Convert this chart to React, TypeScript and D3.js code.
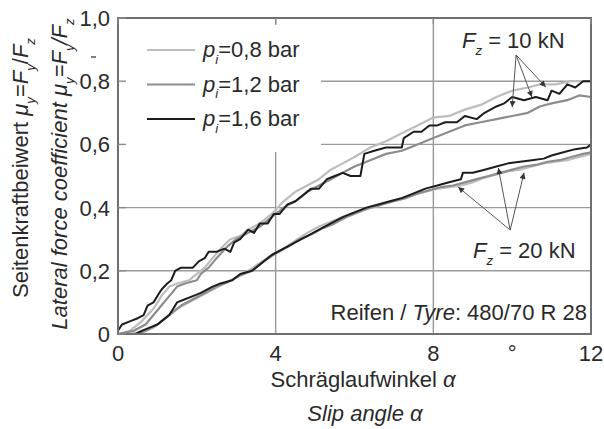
import { useEffect, useRef } from "react";
import * as d3 from "d3";

// slip angle [deg] vs lateral force coefficient
const fz10Bar08: [number, number][] = [
  [0, 0], [0.3, 0.01], [0.6, 0.04], [0.9, 0.08], [1.1, 0.12], [1.3, 0.15], [1.5, 0.16],
  [1.8, 0.17], [2.0, 0.19], [2.2, 0.21], [2.4, 0.24], [2.6, 0.27], [2.85, 0.3], [3.1, 0.31],
  [3.3, 0.33], [3.6, 0.35], [3.9, 0.38], [4.2, 0.42], [4.5, 0.45], [4.8, 0.47], [5.1, 0.49],
  [5.4, 0.52], [5.7, 0.54], [6.0, 0.56], [6.4, 0.59], [6.8, 0.61], [7.2, 0.635], [7.6, 0.66],
  [8.0, 0.685], [8.4, 0.69], [8.8, 0.71], [9.2, 0.725], [9.6, 0.75], [10.0, 0.77],
  [10.4, 0.78], [10.7, 0.79], [11.1, 0.79], [11.5, 0.8], [12, 0.8],
];
const fz10Bar12: [number, number][] = [
  [0, 0], [0.4, 0.01], [0.7, 0.03], [0.9, 0.06], [1.1, 0.09], [1.3, 0.12], [1.5, 0.15],
  [1.7, 0.16], [2.0, 0.17], [2.1, 0.19], [2.3, 0.21], [2.5, 0.24], [2.8, 0.28], [3.0, 0.3],
  [3.3, 0.32], [3.6, 0.34], [3.9, 0.37], [4.2, 0.4], [4.5, 0.42], [4.8, 0.45], [5.1, 0.47],
  [5.4, 0.49], [5.7, 0.51], [6.0, 0.53], [6.4, 0.55], [6.8, 0.57], [7.2, 0.58], [7.6, 0.6],
  [8.0, 0.62], [8.4, 0.64], [8.8, 0.66], [9.2, 0.67], [9.6, 0.68], [10.0, 0.69], [10.4, 0.7],
  [10.7, 0.72], [11.0, 0.73], [11.4, 0.74], [11.7, 0.755], [12, 0.75],
];
const fz10Bar16: [number, number][] = [
  [0, 0.01], [0.1, 0.03], [0.3, 0.04], [0.5, 0.05], [0.65, 0.06], [0.75, 0.09], [0.9, 0.1],
  [1.0, 0.12], [1.1, 0.14], [1.25, 0.16], [1.35, 0.17], [1.45, 0.2], [1.6, 0.21], [1.9, 0.21],
  [2.05, 0.23], [2.2, 0.24], [2.3, 0.26], [2.5, 0.26], [2.7, 0.27], [2.85, 0.26], [2.95, 0.29],
  [3.1, 0.3], [3.3, 0.33], [3.45, 0.32], [3.6, 0.35], [3.8, 0.35], [3.95, 0.38], [4.1, 0.38],
  [4.3, 0.41], [4.5, 0.42], [4.7, 0.44], [4.9, 0.46], [5.1, 0.46], [5.3, 0.49], [5.5, 0.5],
  [5.7, 0.51], [5.9, 0.5], [6.15, 0.5], [6.25, 0.57], [6.5, 0.58], [6.8, 0.59], [7.0, 0.59],
  [7.2, 0.59], [7.25, 0.62], [7.5, 0.64], [7.7, 0.64], [7.9, 0.66], [8.1, 0.66], [8.3, 0.67],
  [8.6, 0.67], [8.8, 0.69], [9.1, 0.68], [9.3, 0.7], [9.6, 0.72], [9.8, 0.73], [10.0, 0.75],
  [10.3, 0.74], [10.6, 0.75], [10.9, 0.74], [11.0, 0.77], [11.2, 0.76], [11.4, 0.79],
  [11.6, 0.78], [11.8, 0.8], [12, 0.8],
];
const fz20Bar08: [number, number][] = [
  [0.3, 0], [0.6, 0.005], [0.9, 0.02], [1.2, 0.05], [1.5, 0.08], [1.8, 0.1], [2.1, 0.12],
  [2.4, 0.14], [2.7, 0.16], [3.0, 0.18], [3.3, 0.2], [3.6, 0.225], [3.9, 0.25], [4.2, 0.27],
  [4.5, 0.295], [4.8, 0.32], [5.1, 0.34], [5.4, 0.355], [5.7, 0.37], [6.0, 0.385], [6.3, 0.395],
  [6.6, 0.405], [6.9, 0.42], [7.2, 0.43], [7.5, 0.44], [7.8, 0.45], [8.1, 0.46], [8.4, 0.465],
  [8.7, 0.47], [9.0, 0.48], [9.3, 0.495], [9.6, 0.505], [9.9, 0.515], [10.2, 0.52], [10.5, 0.53],
  [10.8, 0.54], [11.1, 0.545], [11.4, 0.55], [11.7, 0.56], [12, 0.57],
];
const fz20Bar12: [number, number][] = [
  [0.4, 0], [0.7, 0.01], [1.0, 0.03], [1.3, 0.06], [1.6, 0.09], [1.9, 0.11], [2.2, 0.13],
  [2.5, 0.15], [2.8, 0.165], [3.1, 0.185], [3.4, 0.2], [3.7, 0.23], [4.0, 0.255], [4.3, 0.275],
  [4.6, 0.3], [4.9, 0.315], [5.2, 0.335], [5.5, 0.35], [5.8, 0.37], [6.1, 0.385], [6.4, 0.4],
  [6.7, 0.41], [7.0, 0.42], [7.3, 0.43], [7.6, 0.445], [7.9, 0.455], [8.2, 0.465], [8.5, 0.47],
  [8.8, 0.48], [9.1, 0.49], [9.4, 0.5], [9.7, 0.51], [10.0, 0.52], [10.3, 0.53], [10.6, 0.535],
  [10.9, 0.545], [11.2, 0.55], [11.5, 0.56], [11.8, 0.57], [12, 0.575],
];
const fz20Bar16: [number, number][] = [
  [0.45, 0], [0.6, 0.01], [0.8, 0.02], [1.0, 0.03], [1.1, 0.04], [1.3, 0.06], [1.4, 0.08],
  [1.5, 0.1], [1.7, 0.11], [1.9, 0.12], [2.1, 0.13], [2.4, 0.15], [2.6, 0.16], [2.9, 0.17],
  [3.1, 0.19], [3.4, 0.2], [3.6, 0.22], [3.9, 0.25], [4.2, 0.27], [4.5, 0.29], [4.8, 0.31],
  [5.1, 0.33], [5.4, 0.35], [5.7, 0.37], [6.0, 0.385], [6.3, 0.4], [6.6, 0.41], [6.9, 0.42],
  [7.2, 0.43], [7.5, 0.445], [7.8, 0.46], [8.1, 0.47], [8.4, 0.48], [8.7, 0.49], [8.75, 0.51],
  [9.0, 0.51], [9.3, 0.52], [9.6, 0.53], [9.9, 0.54], [10.2, 0.545], [10.5, 0.55],
  [10.8, 0.555], [11.0, 0.565], [11.3, 0.575], [11.6, 0.585], [11.9, 0.59], [12, 0.6],
];

const pressures = ["0,8", "1,2", "1,6"];
const pressureColors = ["#bdbdbd", "#8c8c8c", "#1c1c1c"];
const seriesByPressure = [
  [fz10Bar08, fz20Bar08],
  [fz10Bar12, fz20Bar12],
  [fz10Bar16, fz20Bar16],
];

const xTicks = [0, 4, 8, 12];
const xTickLabels = ["0", "4", "8", "12"];
const yTicks = [0, 0.2, 0.4, 0.6, 0.8, 1.0];
const yTickLabels = ["0", "0,2", "0,4", "0,6", "0,8", "1,0"];

// arrows: [from angle, from mu, to angle, to mu]
const arrows10: [number, number, number, number][] = [
  [10.1, 0.883, 10.0, 0.718],
  [10.1, 0.883, 10.5, 0.75],
  [10.1, 0.883, 10.85, 0.782],
];
const arrows20: [number, number, number, number][] = [
  [9.95, 0.329, 8.63, 0.465],
  [9.95, 0.329, 9.65, 0.525],
  [9.95, 0.329, 10.3, 0.51],
];

type Part = { t: string; it?: boolean; sub?: boolean };

const W = 604;
const H = 429;
const FONT = "'Liberation Sans', Arial, sans-serif";
const TXT = "#2a2a2a";
const FS = 22;

function richText(
  sel: d3.Selection<SVGTextElement, unknown, null, undefined>,
  parts: Part[],
  size: number
) {
  let shifted = false;
  parts.forEach((p) => {
    const ts = sel.append("tspan").text(p.t);
    if (p.it) ts.style("font-style", "italic");
    if (p.sub) {
      ts.attr("font-size", size * 0.6).attr("dy", size * 0.3);
      shifted = true;
    } else if (shifted) {
      ts.attr("dy", -size * 0.3);
      shifted = false;
    }
  });
}

export default function App() {
  const svgRef = useRef<SVGSVGElement>(null);

  useEffect(() => {
    if (!svgRef.current) return;
    const svg = d3.select(svgRef.current);
    svg.selectAll("*").remove();

    const x = d3.scaleLinear().domain([0, 12]).range([118, 591]);
    const y = d3.scaleLinear().domain([0, 1]).range([334, 18]);

    svg.append("rect").attr("width", W).attr("height", H).attr("fill", "#fff");

    const grid = svg.append("g").attr("stroke", "#9a9a9a").attr("stroke-width", 1.4);
    grid
      .selectAll("line.v")
      .data(xTicks.slice(1, -1))
      .join("line")
      .attr("x1", (d) => x(d))
      .attr("x2", (d) => x(d))
      .attr("y1", y(0))
      .attr("y2", y(1));
    grid
      .selectAll("line.h")
      .data(yTicks.slice(1, -1))
      .join("line")
      .attr("x1", x(0))
      .attr("x2", x(12))
      .attr("y1", (d) => y(d))
      .attr("y2", (d) => y(d));

    const line = d3
      .line<[number, number]>()
      .x((d) => x(d[0]))
      .y((d) => y(d[1]));

    seriesByPressure.forEach((group, i) => {
      group.forEach((s) => {
        svg
          .append("path")
          .datum(s)
          .attr("d", line)
          .attr("fill", "none")
          .attr("stroke", pressureColors[i])
          .attr("stroke-width", i === 2 ? 2 : 2.2)
          .attr("stroke-linejoin", "round");
      });
    });

    // legend box hides the grid in the upper left
    svg
      .append("rect")
      .attr("x", x(0) + 1)
      .attr("y", 25)
      .attr("width", 202)
      .attr("height", 127)
      .attr("fill", "#fff");

    const legend = svg.append("g").attr("transform", "translate(147,50)");
    pressures.forEach((p, i) => {
      const row = legend.append("g").attr("transform", `translate(0,${i * 34.5})`);
      row
        .append("line")
        .attr("x1", 0)
        .attr("x2", 48)
        .attr("stroke", pressureColors[i])
        .attr("stroke-width", 2);
      const t = row
        .append("text")
        .attr("x", 56)
        .attr("y", 7)
        .attr("font-size", FS)
        .attr("fill", TXT);
      richText(t, [{ t: "p", it: true }, { t: "i", it: true, sub: true }, { t: `=${p} bar` }], FS);
    });

    // frame and inward ticks
    svg
      .append("rect")
      .attr("x", x(0))
      .attr("y", y(1))
      .attr("width", x(12) - x(0))
      .attr("height", y(0) - y(1))
      .attr("fill", "none")
      .attr("stroke", "#6f6f6f")
      .attr("stroke-width", 2);
    const ticks = svg.append("g").attr("stroke", "#8a8a8a").attr("stroke-width", 1.4);
    ticks
      .selectAll("line.yt")
      .data(yTicks)
      .join("line")
      .attr("x1", x(0))
      .attr("x2", x(0) + 8)
      .attr("y1", (d) => y(d))
      .attr("y2", (d) => y(d));
    ticks
      .selectAll("line.xt")
      .data(xTicks)
      .join("line")
      .attr("x1", (d) => x(d))
      .attr("x2", (d) => x(d))
      .attr("y1", y(1))
      .attr("y2", y(1) + 6);
    svg
      .append("line")
      .attr("x1", 91)
      .attr("x2", 96)
      .attr("y1", 57)
      .attr("y2", 57)
      .attr("stroke", "#555")
      .attr("stroke-width", 1.5);

    const font = svg.append("g").attr("fill", TXT);

    font
      .selectAll("text.yl")
      .data(yTicks)
      .join("text")
      .attr("x", 110)
      .attr("y", (d) => y(d) + 8)
      .attr("text-anchor", "end")
      .attr("font-size", FS)
      .text((_d, i) => yTickLabels[i]);
    font
      .selectAll("text.xl")
      .data(xTicks)
      .join("text")
      .attr("x", (d) => x(d))
      .attr("y", 361)
      .attr("text-anchor", "middle")
      .attr("font-size", FS)
      .text((_d, i) => xTickLabels[i]);
    font
      .append("text")
      .attr("x", x(10))
      .attr("y", 361)
      .attr("text-anchor", "middle")
      .attr("font-size", FS)
      .text("°");

    const xt1 = font
      .append("text")
      .attr("x", 363)
      .attr("y", 387)
      .attr("text-anchor", "middle")
      .attr("font-size", FS);
    richText(xt1, [{ t: "Schräglaufwinkel " }, { t: "α", it: true }], FS);
    font
      .append("text")
      .attr("x", 365)
      .attr("y", 421)
      .attr("text-anchor", "middle")
      .attr("font-size", FS)
      .style("font-style", "italic")
      .text("Slip angle α");

    const yt1 = font
      .append("text")
      .attr("transform", "translate(28,168) rotate(-90)")
      .attr("text-anchor", "middle")
      .attr("font-size", FS);
    richText(
      yt1,
      [
        { t: "Seitenkraftbeiwert " },
        { t: "μ", it: true },
        { t: "y", it: true, sub: true },
        { t: "=" },
        { t: "F", it: true },
        { t: "y", it: true, sub: true },
        { t: "/" },
        { t: "F", it: true },
        { t: "z", it: true, sub: true },
      ],
      FS
    );
    const yt2 = font
      .append("text")
      .attr("transform", "translate(67,174) rotate(-90)")
      .attr("text-anchor", "middle")
      .attr("font-size", FS)
      .style("font-style", "italic");
    richText(
      yt2,
      [
        { t: "Lateral force coefficient " },
        { t: "μ" },
        { t: "y", sub: true },
        { t: "=" },
        { t: "F" },
        { t: "y", sub: true },
        { t: "/" },
        { t: "F" },
        { t: "z", sub: true },
      ],
      FS
    );

    const fz10 = font.append("text").attr("x", 462).attr("y", 48).attr("font-size", FS);
    richText(fz10, [{ t: "F", it: true }, { t: "z", it: true, sub: true }, { t: " = 10 kN" }], FS);
    const fz20 = font.append("text").attr("x", 473).attr("y", 258).attr("font-size", FS);
    richText(fz20, [{ t: "F", it: true }, { t: "z", it: true, sub: true }, { t: " = 20 kN" }], FS);

    const tyre = font
      .append("text")
      .attr("x", 587)
      .attr("y", 320)
      .attr("text-anchor", "end")
      .attr("font-size", FS);
    richText(tyre, [{ t: "Reifen / " }, { t: "Tyre", it: true }, { t: ": 480/70 R 28" }], FS);

    // annotation arrows
    svg
      .append("defs")
      .append("marker")
      .attr("id", "arrowHead")
      .attr("viewBox", "0 0 10 10")
      .attr("refX", 10)
      .attr("refY", 5)
      .attr("markerWidth", 8)
      .attr("markerHeight", 6)
      .attr("markerUnits", "userSpaceOnUse")
      .attr("orient", "auto")
      .append("path")
      .attr("d", "M0,0L10,5L0,10Z")
      .attr("fill", "#333");
    svg
      .append("g")
      .selectAll("line")
      .data([...arrows10, ...arrows20])
      .join("line")
      .attr("x1", (d) => x(d[0]))
      .attr("y1", (d) => y(d[1]))
      .attr("x2", (d) => x(d[2]))
      .attr("y2", (d) => y(d[3]))
      .attr("stroke", "#555")
      .attr("stroke-width", 1)
      .attr("marker-end", "url(#arrowHead)");
  }, []);

  return (
    <svg
      ref={svgRef}
      width={W}
      height={H}
      fontFamily={FONT}
      style={{ position: "absolute", left: 0, top: 0, display: "block" }}
    />
  );
}
